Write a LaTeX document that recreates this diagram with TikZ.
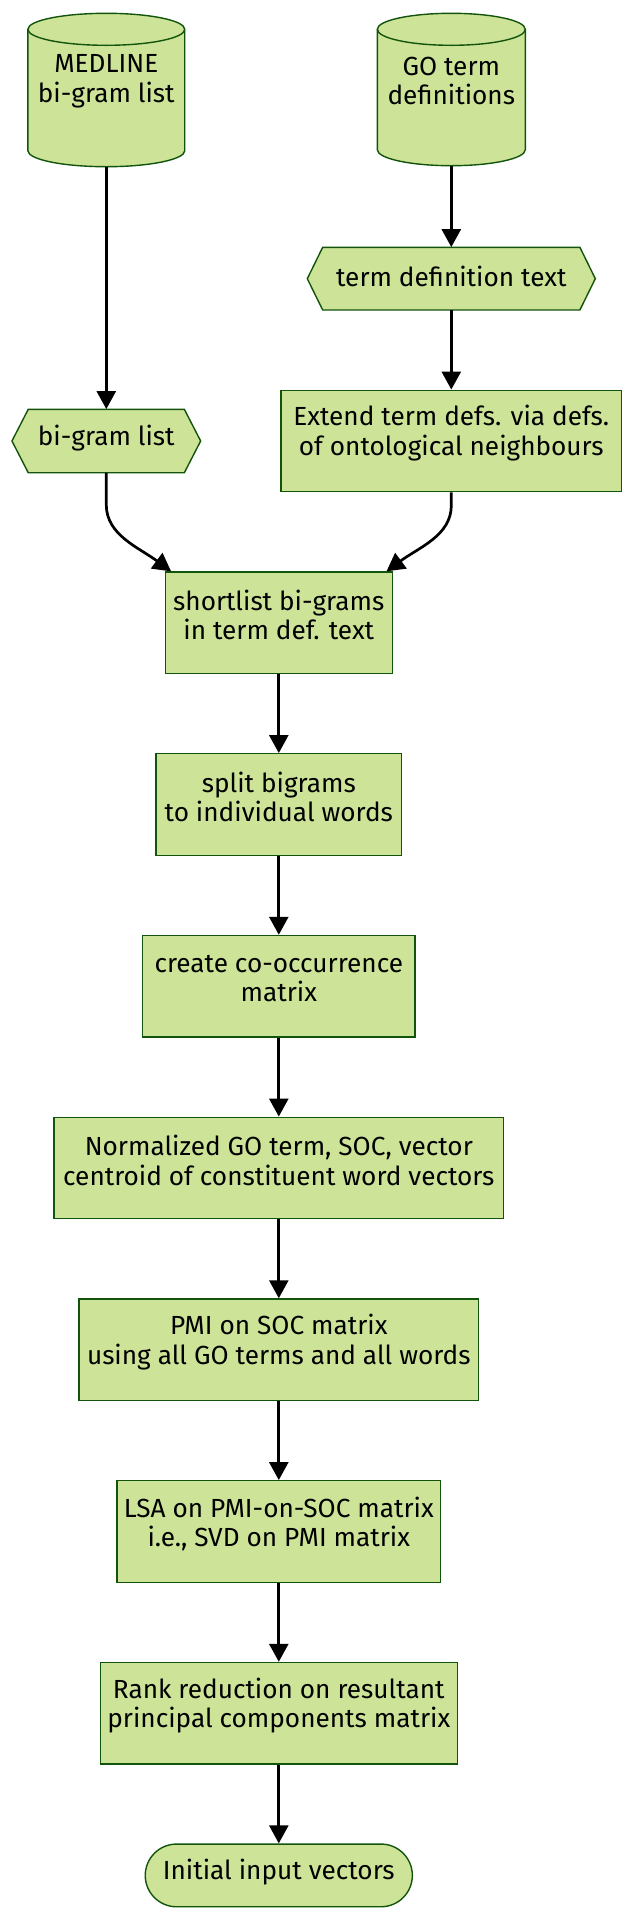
\documentclass[tikz,border=0pt]{standalone}
\usepackage{fontspec}
\setmainfont{Fira Sans}
\usetikzlibrary{arrows.meta,shapes.misc,calc}
\definecolor{boxfill}{HTML}{CDE498}
\definecolor{boxline}{HTML}{13540C}
\begin{document}
\begin{tikzpicture}[x=1pt,y=-1pt,
  shapeline/.style={draw=boxline, fill=boxfill, line width=1.4pt},
  procbox/.style={shapeline, rectangle, inner sep=0pt, minimum height=101.5pt},
  anchorbox/.style={rectangle, inner sep=0pt},
  txt/.style={font=\fontsize{26.2}{29.5}\selectfont, align=center, inner sep=0pt, text=black},
  flow/.style={line width=2.7pt, -{Triangle[length=18pt,width=19pt]}},
]
\useasboundingbox (0,0) rectangle (634,1920);

% ---- cylinders ----
\draw[shapeline] (27.85,29.3) -- (27.85,150.7) arc[start angle=180,end angle=360,x radius=78.45pt,y radius=16pt]
  -- (184.75,29.3) arc[start angle=0,end angle=180,x radius=78.45pt,y radius=16pt] -- cycle;
\draw[draw=boxline, line width=1.4pt] (27.85,29.3) arc[start angle=180,end angle=360,x radius=78.45pt,y radius=16pt];
\node[anchorbox, minimum width=156.9pt, minimum height=153.4pt] (medline) at (106.3,90) {};
\node[txt] (medlinetxt) at (106.3,81.2) {MEDLINE\\bi-gram list};

\draw[shapeline] (377.3,29.3) -- (377.3,149.7) arc[start angle=180,end angle=360,x radius=74pt,y radius=16pt]
  -- (525.3,29.3) arc[start angle=0,end angle=180,x radius=74pt,y radius=16pt] -- cycle;
\draw[draw=boxline, line width=1.4pt] (377.3,29.3) arc[start angle=180,end angle=360,x radius=74pt,y radius=16pt];
\node[anchorbox, minimum width=148pt, minimum height=152.4pt] (godefs) at (451.3,89.5) {};
\node[txt] (godefstxt) at (451.3,81.2) {GO term\\definitions};

% ---- hexagons ----
\draw[shapeline] (307.3,278.65) -- (322.7,247.3) -- (579.9,247.3) -- (595.3,278.65) -- (579.9,310) -- (322.7,310) -- cycle;
\node[anchorbox, minimum width=288pt, minimum height=62.7pt] (tdt) at (451.3,278.65) {};
\node[txt] (tdttxt) at (451.3,276) {term definition text};

\draw[shapeline] (11.95,441) -- (28.25,409.3) -- (184.35,409.3) -- (200.65,441) -- (184.35,472.7) -- (28.25,472.7) -- cycle;
\node[anchorbox, minimum width=188.7pt, minimum height=63.4pt] (bigram) at (106.3,441) {};
\node[txt] (bigramtxt) at (106.3,438.5) {bi-gram list};

% ---- process boxes ----
\node[procbox, minimum width=340.6pt] (extend) at (451.3,441) {};
\node[txt] at (451.3,433.3) {Extend term defs. via defs.\\of ontological neighbours};

\node[procbox, minimum width=227pt] (shortlist) at (278.8,622.8) {};
\node[txt] at (278.8,615) {shortlist bi-grams\\in term def. text};

\node[procbox, minimum width=245.6pt] (split) at (278.8,804.5) {};
\node[txt] at (278.8,796.7) {split bigrams\\to individual words};

\node[procbox, minimum width=272.4pt] (create) at (278.8,986.2) {};
\node[txt] at (278.8,978.4) {create co-occurrence\\matrix};

\node[procbox, minimum width=449.4pt] (normal) at (278.8,1168) {};
\node[txt] at (278.8,1160.2) {Normalized GO term, SOC, vector\\centroid of constituent word vectors};

\node[procbox, minimum width=399.9pt] (pmi) at (278.8,1349.7) {};
\node[txt] at (278.8,1341.9) {PMI on SOC matrix\\using all GO terms and all words};

\node[procbox, minimum width=323.5pt] (lsa) at (278.8,1531.5) {};
\node[txt] at (278.8,1523.7) {LSA on PMI-on-SOC matrix\\i.e., SVD on PMI matrix};

\node[procbox, minimum width=357.2pt] (rank) at (278.8,1713.2) {};
\node[txt] at (278.8,1705.4) {Rank reduction on resultant\\principal components matrix};

\node[shapeline, rounded rectangle, inner sep=0pt, minimum width=267.1pt, minimum height=62.7pt] (initial) at (278.8,1875.4) {};
\node[txt] at (278.8,1872.5) {Initial input vectors};

% ---- connectors ----
\draw[flow] (medline.south) -- (bigram.north);
\draw[flow] (godefs.south) -- (tdt.north);
\draw[flow] (tdt.south) -- (extend.north);
\draw[flow] (bigram.south) -- ++(0,32) .. controls ++(0,30) and ($(shortlist.north west)+(-26,-24)$) .. ([xshift=6.5pt]shortlist.north west);
\draw[flow] (extend.south) -- ++(0,13) .. controls ++(0,30) and ($(shortlist.north east)+(26,-24)$) .. ([xshift=-6.5pt]shortlist.north east);
\draw[flow] (shortlist) -- (split);
\draw[flow] (split) -- (create);
\draw[flow] (create) -- (normal);
\draw[flow] (normal) -- (pmi);
\draw[flow] (pmi) -- (lsa);
\draw[flow] (lsa) -- (rank);
\draw[flow] (rank) -- (initial);
\end{tikzpicture}
\end{document}
